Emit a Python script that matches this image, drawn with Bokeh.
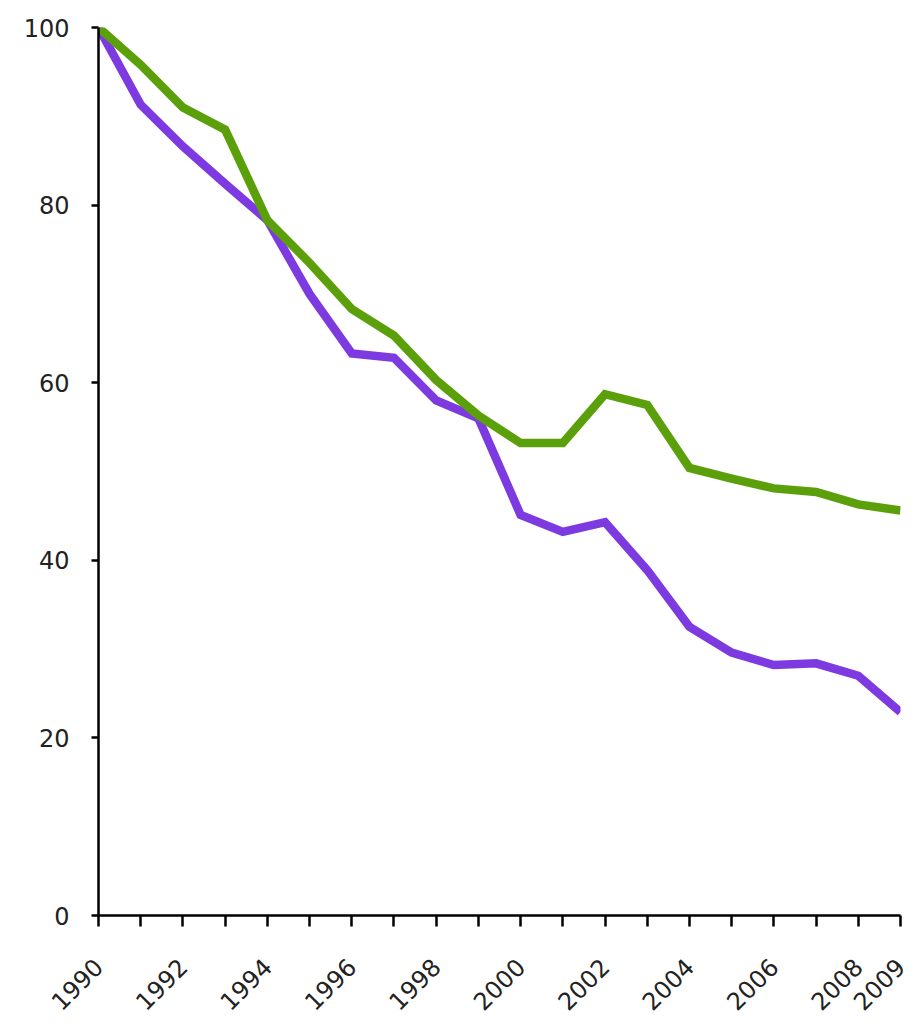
import math
from bokeh.plotting import figure
from bokeh.models import FixedTicker, Range1d
from bokeh.embed import file_html
from bokeh.resources import INLINE

years = list(range(1990, 2010))
green_series = [100, 95.8, 91.0, 88.5, 78.3, 73.5, 68.3, 65.3, 60.3, 56.3,
                53.2, 53.2, 58.7, 57.5, 50.4, 49.2, 48.1, 47.7, 46.3, 45.6]
purple_series = [100, 91.3, 86.6, 82.4, 78.3, 70.0, 63.3, 62.8, 58.0, 56.0,
                 45.1, 43.2, 44.3, 38.9, 32.5, 29.6, 28.2, 28.4, 27.0, 22.9]
x_label_years = [1990, 1992, 1994, 1996, 1998, 2000, 2002, 2004, 2006, 2008, 2009]
x_minor_years = [1991, 1993, 1995, 1997, 1999, 2001, 2003, 2005, 2007]
y_ticks = [0, 20, 40, 60, 80, 100]

p = figure(width=910, height=1026, output_backend="svg", toolbar_location=None,
           x_range=Range1d(1990, 2009), y_range=Range1d(0, 100),
           min_border_left=98, min_border_right=10, min_border_top=27, min_border_bottom=111)
p.outline_line_color = None
p.xgrid.grid_line_color = None
p.ygrid.grid_line_color = None
p.background_fill_color = "white"
p.border_fill_color = "white"

p.line(years, purple_series, line_color="#7c3ae0", line_width=8.5, line_join="miter")
p.line(years, green_series, line_color="#5b9f0b", line_width=8.5, line_join="miter")

xa = p.xaxis[0]
xa.ticker = FixedTicker(ticks=x_label_years, minor_ticks=x_minor_years)
xa.major_label_orientation = math.pi / 4
xa.major_label_text_font = "DejaVu Sans"
xa.major_label_text_font_size = "24px"
xa.major_label_text_color = "#222222"
xa.major_label_standoff = 36
xa.axis_line_color = "black"
xa.axis_line_width = 2.5
xa.major_tick_line_color = "black"
xa.major_tick_line_width = 2.5
xa.major_tick_out = 11
xa.major_tick_in = 0
xa.minor_tick_line_color = "black"
xa.minor_tick_line_width = 2.5
xa.minor_tick_out = 11
xa.minor_tick_in = 0

ya = p.yaxis[0]
ya.ticker = FixedTicker(ticks=y_ticks)
ya.major_label_text_font = "DejaVu Sans"
ya.major_label_text_font_size = "24px"
ya.major_label_text_color = "#222222"
ya.major_label_standoff = 22
ya.axis_line_color = "black"
ya.axis_line_width = 2.5
ya.major_tick_line_color = "black"
ya.major_tick_line_width = 2.5
ya.major_tick_out = 7
ya.major_tick_in = 0
ya.minor_tick_line_color = None

open("out.html", "w").write(file_html(p, INLINE))
